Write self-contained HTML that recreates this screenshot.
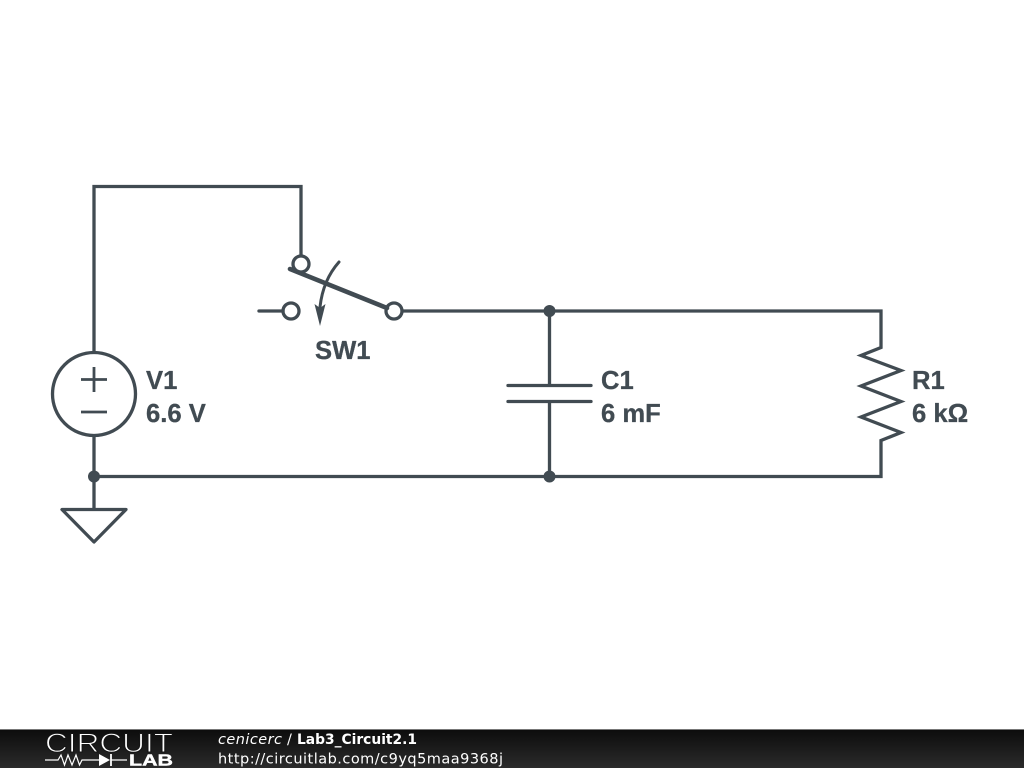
<!DOCTYPE html>
<html><head><meta charset="utf-8"><style>
html,body{margin:0;padding:0;background:#fff;width:1024px;height:768px;overflow:hidden}
svg{display:block}
.l{font-family:"Liberation Sans",sans-serif;font-weight:700;font-size:25.6px;fill:#414b52;stroke:#414b52;stroke-width:.3}
.f{font-family:"DejaVu Sans",sans-serif;font-size:14.5px;fill:#fff}
</style></head><body>
<svg width="1024" height="768" viewBox="0 0 1024 768" xmlns="http://www.w3.org/2000/svg">
<defs><linearGradient id="bar" x1="0" y1="0" x2="0" y2="1"><stop offset="0" stop-color="#0c0c0c"/><stop offset="1" stop-color="#2b2b2b"/></linearGradient></defs>
<rect width="1024" height="768" fill="#fff"/>
<g fill="none" stroke="#414b52" stroke-width="3.3">
<path d="M94 352V186.500H301V256"/>
<path d="M402 311H881V347.500L861 355.500 901 370.500 861 386 901 401.500 861 417 901 432.500 881 440.500V476.500H94"/>
<path d="M94 436V509"/>
<path d="M549.500 311V385M549.500 401V476"/>
<path d="M508 385.500H591M508 401.500H591" stroke-linecap="round"/>
<circle cx="94" cy="394" r="41.500"/>
<path d="M81 379.500H107M94 367V392M81 412H107" stroke-width="2.800"/>
<path d="M62 509.500H126L94 542Z" stroke-linejoin="round"/>
<circle cx="301" cy="264" r="8"/>
<circle cx="291" cy="311" r="8"/>
<circle cx="394" cy="311" r="8"/>
<path d="M259 311H283" stroke-linecap="round"/>
<path d="M290 269L387 308" stroke-width="4.600" stroke-linecap="round"/>
<path d="M339 262Q323 280 320 307" stroke-width="3" stroke-linecap="round"/>
</g>
<path d="M314.500 304L320 308 325.500 304 320 326Z" fill="#414b52"/>
<circle cx="94" cy="476.500" r="6" fill="#414b52"/>
<circle cx="549.500" cy="311" r="6" fill="#414b52"/>
<circle cx="549.500" cy="476.500" r="6" fill="#414b52"/>
<text class="l" x="315" y="359">SW1</text>
<text class="l" x="146" y="389">V1</text>
<text class="l" x="146" y="422">6.6 V</text>
<text class="l" x="601" y="389">C1</text>
<text class="l" x="601" y="422">6 mF</text>
<text class="l" x="912" y="389">R1</text>
<text class="l" x="912" y="422">6 kΩ</text>
<rect x="0" y="729" width="1024" height="39" fill="url(#bar)"/>
<rect x="0" y="729" width="1024" height="1" fill="#777"/>
<text x="45" y="752" font-family="Liberation Sans,sans-serif" font-size="26.500" fill="#fff" stroke="#151515" stroke-width="1" paint-order="fill stroke" textLength="128" lengthAdjust="spacingAndGlyphs">CIRCUIT</text>
<path d="M45 760H58L61 755 64.500 765 68 755 72 765 76 755 79.500 765 82 760H99M111 760H127" fill="none" stroke="#fff" stroke-width="1.200"/>
<path d="M99 754V766L110 760Z" fill="#fff"/>
<path d="M111 754V766" stroke="#fff" stroke-width="1.800"/>
<text x="129" y="765.500" font-family="Liberation Sans,sans-serif" font-weight="700" font-size="15.500" fill="#fff" stroke="#fff" stroke-width=".4" textLength="44" lengthAdjust="spacingAndGlyphs">LAB</text>
<text class="f" x="218" y="744" font-style="italic" textLength="64">cenicerc</text>
<text class="f" x="287" y="744">/</text>
<text class="f" x="297" y="744" font-weight="700" textLength="120" lengthAdjust="spacingAndGlyphs">Lab3_Circuit2.1</text>
<text class="f" x="218" y="763.500" textLength="285">http://circuitlab.com/c9yq5maa9368j</text>
</svg>
</body></html>
